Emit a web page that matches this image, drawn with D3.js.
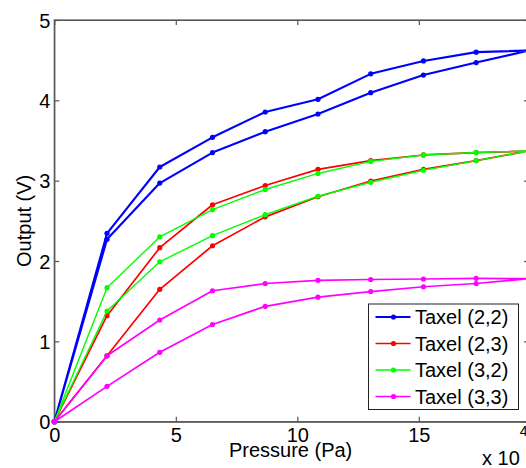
<!DOCTYPE html>
<html><head><meta charset="utf-8">
<script src="https://cdn.jsdelivr.net/npm/d3@7"></script>
<style>html,body{margin:0;padding:0;background:#fff;overflow:hidden}</style>
</head><body>
<script>
// ---- data ----
const pressure = [0, 2.17, 4.34, 6.51, 8.68, 10.85, 13.02, 15.19, 17.36, 19.53]; // x 10^4 Pa
const taxelNames = ["Taxel (2,2)", "Taxel (2,3)", "Taxel (3,2)", "Taxel (3,3)"];
const taxelColors = ["#0000ff", "#ff0000", "#00ff00", "#ff00ff"];
const taxel22Load   = [0, 2.27, 2.97, 3.35, 3.61, 3.83, 4.095, 4.315, 4.47, 4.62];
const taxel22Unload = [0, 2.345, 3.17, 3.54, 3.855, 4.013, 4.33, 4.49, 4.60, 4.62];
const taxel23Load   = [0, 0.82, 1.648, 2.19, 2.55, 2.80, 2.996, 3.14, 3.25, 3.37];
const taxel23Unload = [0, 1.32, 2.166, 2.70, 2.94, 3.14, 3.25, 3.32, 3.35, 3.37];
const taxel32Load   = [0, 1.378, 1.99, 2.315, 2.577, 2.806, 2.98, 3.13, 3.25, 3.37];
const taxel32Unload = [0, 1.668, 2.30, 2.64, 2.89, 3.09, 3.24, 3.32, 3.35, 3.37];
const taxel33Load   = [0, 0.44, 0.864, 1.21, 1.436, 1.55, 1.62, 1.68, 1.72, 1.78];
const taxel33Unload = [0, 0.82, 1.266, 1.63, 1.72, 1.76, 1.77, 1.776, 1.785, 1.78];
const xTicks = [0, 5, 10, 15];
const yTicks = [0, 1, 2, 3, 4, 5];

const loads = [taxel22Load, taxel23Load, taxel32Load, taxel33Load];
const unloads = [taxel22Unload, taxel23Unload, taxel32Unload, taxel33Unload];
const widths = [2.1, 1.7, 1.4, 1.7];

// ---- layout ----
const W = 526, H = 468;
const pL = 54.3, pR = 528.9, pT = 20, pB = 421.7;
const FONT = "'Liberation Sans', Arial, Helvetica, sans-serif";

const svg = d3.select("body").append("svg").attr("width", W).attr("height", H)
  .style("font-family", FONT);

const x = d3.scaleLinear().domain([0, 19.53]).range([pL, pR]);
const y = d3.scaleLinear().domain([0, 5]).range([pB, pT]);

// frame
const axisColor = "#555";
svg.append("rect").attr("x", pL).attr("y", pT).attr("width", pR - pL).attr("height", pB - pT)
  .attr("fill", "#fff").attr("stroke", axisColor).attr("stroke-width", 1.2);

// axes with inward ticks
const tl = 5;
const gx = svg.append("g").attr("transform", `translate(0,${pB})`)
  .call(d3.axisBottom(x).tickValues(xTicks).tickSizeInner(-tl).tickSizeOuter(0).tickPadding(6).tickFormat(d3.format("d")));
const gxt = svg.append("g").attr("transform", `translate(0,${pT})`)
  .call(d3.axisTop(x).tickValues(xTicks).tickSizeInner(-tl).tickSizeOuter(0).tickFormat(""));
const gy = svg.append("g").attr("transform", `translate(${pL},0)`)
  .call(d3.axisLeft(y).tickValues(yTicks).tickSizeInner(-tl).tickSizeOuter(0).tickPadding(4).tickFormat(d3.format("d")));
const gyr = svg.append("g").attr("transform", `translate(${pR},0)`)
  .call(d3.axisRight(y).tickValues(yTicks).tickSizeInner(-tl).tickSizeOuter(0).tickFormat(""));
[gx, gxt, gy, gyr].forEach(g => {
  g.select(".domain").attr("stroke", axisColor).attr("stroke-width", 1.2);
  g.selectAll(".tick line").attr("stroke", axisColor).attr("stroke-width", 1.2);
  g.selectAll("text").attr("fill", "#000").style("font-size", "20px").style("font-family", FONT);
});
gx.selectAll(".tick text").attr("dy", "0.72em");
gy.selectAll(".tick text").attr("dy", "0.36em");

// series
const line = d3.line().x(d => x(d[0])).y(d => y(d[1]));
loads.forEach((ld, i) => {
  const pts = pressure.map((p, k) => [p, ld[k]]);
  const back = pressure.map((p, k) => [p, unloads[i][k]]).reverse().slice(1);
  const loop = pts.concat(back);
  const g = svg.append("g");
  g.append("path").attr("d", line(loop)).attr("fill", "none")
    .attr("stroke", taxelColors[i]).attr("stroke-width", widths[i]).attr("stroke-linejoin", "round");
  g.selectAll("circle").data(loop).join("circle")
    .attr("cx", d => x(d[0])).attr("cy", d => y(d[1])).attr("r", 2.6).attr("fill", taxelColors[i]);
});

// axis labels
svg.append("text").attr("x", (pL + pR) / 2 - 1).attr("y", 457).attr("text-anchor", "middle")
  .style("font-size", "20px").text("Pressure (Pa)");
svg.append("text").attr("transform", `translate(31,${(pT + pB) / 2}) rotate(-90)`)
  .attr("text-anchor", "middle").style("font-size", "20px").text("Output (V)");
const ex = svg.append("text").attr("x", 482).attr("y", 465).style("font-size", "20px");
ex.append("tspan").text("x 10");
ex.append("tspan").attr("dy", -29).style("font-size", "14px").text("4");

// legend
const lgX = 368.5, lgY = 304, lgW = 150, lgH = 105.5, rowH = 26.5;
const lg = svg.append("g");
lg.append("rect").attr("x", lgX).attr("y", lgY).attr("width", lgW).attr("height", lgH)
  .attr("fill", "#fff").attr("stroke", "#222").attr("stroke-width", 1);
taxelNames.forEach((name, i) => {
  const cy = lgY + 13 + i * rowH;
  lg.append("line").attr("x1", lgX + 7).attr("x2", lgX + 42).attr("y1", cy).attr("y2", cy)
    .attr("stroke", taxelColors[i]).attr("stroke-width", widths[i]);
  lg.append("circle").attr("cx", lgX + 25).attr("cy", cy).attr("r", 2.6).attr("fill", taxelColors[i]);
  lg.append("text").attr("x", lgX + 46.5).attr("y", cy).attr("dy", "0.36em")
    .style("font-size", "20px").text(name);
});
</script>
</body></html>
